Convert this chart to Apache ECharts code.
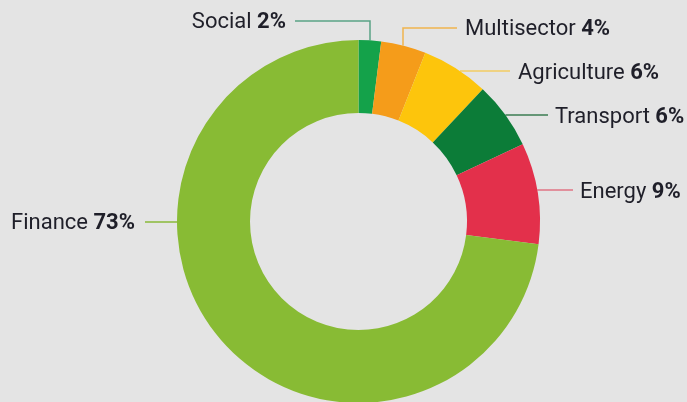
<!DOCTYPE html>
<html>
<head>
<meta charset="utf-8">
<script src="https://cdn.jsdelivr.net/npm/echarts@6/dist/echarts.min.js"></script>
<style>
html,body{margin:0;padding:0;background:#e4e4e4;}
#chart{width:687px;height:402px;}
</style>
</head>
<body>
<div id="chart"></div>
<script>
// Data
var categories = ['Social', 'Multisector', 'Agriculture', 'Transport', 'Energy', 'Finance'];
var shares = [2, 4, 6, 6, 9, 73];
var sliceColors = ['#14a24a', '#f59c1a', '#fdc50c', '#0c7c38', '#e3304b', '#88bb34'];
var lineColors = ['#5aa285', '#efb44e', '#f3cd62', '#3b7c52', '#e07585', '#8aba3a'];

// Geometry of the ring (styling)
var CX = 358.5, CY = 221.5, R_IN = 108.5, R_OUT = 181.5;
var FONT = 'Roboto, "Noto Sans", sans-serif';
var FS = 22;
function edgeX(y, side) {
  var dy = y - CY;
  return CX + side * Math.sqrt(R_OUT * R_OUT - dy * dy);
}
function edgeYTop(x) {
  var dx = x - CX;
  return CY - Math.sqrt(R_OUT * R_OUT - dx * dx);
}
// label placement (styling)
var labelSpots = [
  {x: 286, y: 22, align: 'right', pts: function(){ return [[370, edgeYTop(370)], [370, 21], [295, 21]]; }},
  {x: 465, y: 29, align: 'left', pts: function(){ return [[403, edgeYTop(403)], [403, 28], [457, 28]]; }},
  {x: 518, y: 73, align: 'left', pts: function(){ return [[edgeX(71, 1), 71], [490, 71], [510, 71]]; }},
  {x: 555, y: 117, align: 'left', pts: function(){ return [[edgeX(115, 1), 115], [530, 115], [548, 115]]; }},
  {x: 580, y: 192, align: 'left', pts: function(){ return [[edgeX(190, 1), 190], [560, 190], [573, 190]]; }},
  {x: 135, y: 223, align: 'right', pts: function(){ return [[edgeX(222, -1), 222], [160, 222], [145, 222]]; }}
];

var data = categories.map(function (name, i) {
  return {
    name: name,
    value: shares[i],
    itemStyle: {color: sliceColors[i]},
    labelLine: {lineStyle: {color: lineColors[i], width: 1.5}}
  };
});

var chart = echarts.init(document.getElementById('chart'), null, {renderer: 'canvas'});
chart.setOption({
  backgroundColor: '#e4e4e4',
  animation: false,
  series: [{
    type: 'pie',
    center: [CX, CY],
    radius: [R_IN, R_OUT],
    startAngle: 90,
    clockwise: true,
    avoidLabelOverlap: false,
    emphasis: {disabled: true},
    data: data,
    label: {
      show: true,
      position: 'outside',
      formatter: function (p) { return '{n|' + p.name + ' }{p|' + p.value + '%}'; },
      rich: {
        n: {fontFamily: FONT, fontSize: FS, color: '#1f1f29'},
        p: {fontFamily: FONT, fontSize: FS, fontWeight: 'bold', color: '#1f1f29'}
      }
    },
    labelLine: {show: true, smooth: false},
    labelLayout: function (params) {
      var s = labelSpots[params.dataIndex];
      return {
        x: s.x,
        y: s.y,
        align: s.align,
        verticalAlign: 'middle',
        labelLinePoints: s.pts()
      };
    }
  }]
});
</script>
</body>
</html>
